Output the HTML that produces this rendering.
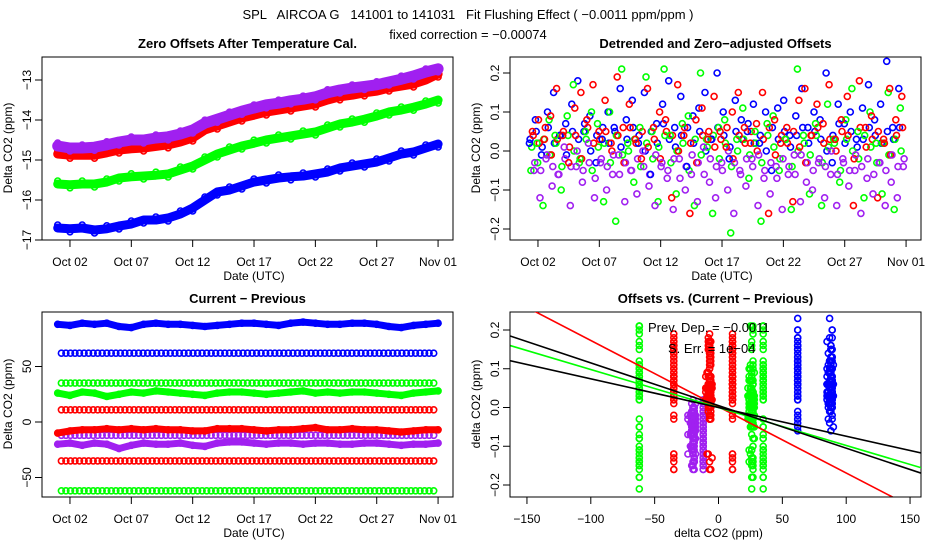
<!DOCTYPE html>
<html><head><meta charset="utf-8">
<style>
html,body{margin:0;padding:0;background:#fff;}
svg{display:block;font-family:"Liberation Sans",sans-serif;}
</style></head>
<body>
<svg id="chart" width="936" height="540" viewBox="0 0 936 540" xmlns="http://www.w3.org/2000/svg">
<defs>
<clipPath id="c1"><rect x="42" y="57" width="411" height="183"/></clipPath>
<clipPath id="c2"><rect x="510" y="57" width="411" height="183"/></clipPath>
<clipPath id="c3"><rect x="42" y="312" width="411" height="185"/></clipPath>
<clipPath id="c4"><rect x="510" y="312" width="411" height="185"/></clipPath>
</defs>
<text x="468" y="19" text-anchor="middle" font-size="13" style="white-space:pre">SPL   AIRCOA G   141001 to 141031   Fit Flushing Effect ( −0.0011 ppm/ppm )</text>
<text x="468" y="39" text-anchor="middle" font-size="13">fixed correction = −0.00074</text>
</svg>
<script>
// ---------- data ----------
const dayTicks=[1,6,11,16,21,26,31];
const dayTickLabels=["Oct 02","Oct 07","Oct 12","Oct 17","Oct 22","Oct 27","Nov 01"];
const p1Days=[0,1,2,3,4,5,6,7,8,9,10,11,12,13,14,15,16,17,18,19,20,21,22,23,24,25,26,27,28,29,30,31];
const p1Blue=[-16.7,-16.72,-16.7,-16.75,-16.72,-16.65,-16.6,-16.5,-16.5,-16.45,-16.35,-16.2,-16.0,-15.8,-15.75,-15.65,-15.55,-15.5,-15.45,-15.42,-15.4,-15.35,-15.3,-15.2,-15.15,-15.1,-15.05,-14.95,-14.85,-14.8,-14.7,-14.6];
const p1Green=[-15.6,-15.62,-15.6,-15.6,-15.55,-15.45,-15.42,-15.4,-15.38,-15.35,-15.25,-15.15,-15.0,-14.85,-14.75,-14.65,-14.58,-14.5,-14.45,-14.4,-14.35,-14.3,-14.2,-14.1,-14.05,-13.98,-13.9,-13.8,-13.75,-13.68,-13.6,-13.5];
const p1Red=[-14.85,-14.88,-14.88,-14.88,-14.82,-14.75,-14.72,-14.7,-14.66,-14.62,-14.55,-14.45,-14.25,-14.15,-14.05,-13.95,-13.88,-13.8,-13.75,-13.7,-13.65,-13.6,-13.5,-13.42,-13.38,-13.32,-13.28,-13.2,-13.15,-13.1,-13.0,-12.85];
const p1Purple=[-14.65,-14.7,-14.7,-14.68,-14.62,-14.55,-14.5,-14.5,-14.45,-14.42,-14.35,-14.25,-14.08,-13.98,-13.88,-13.78,-13.7,-13.62,-13.58,-13.52,-13.48,-13.42,-13.32,-13.25,-13.2,-13.16,-13.12,-13.05,-12.98,-12.9,-12.8,-12.72];
const p1YTicks=[-17,-16,-15,-14,-13];

const p2Blue=[0.02,0.08,-0.01,0.10,0.15,0.04,0.07,0.12,0.18,0.05,0.09,-0.03,0.03,0.10,0.06,0.16,0.08,0.13,0.02,0.15,-0.06,0.07,0.12,0.18,0.06,0.14,-0.04,0.09,0.11,0.15,0.03,0.20,0.10,-0.02,0.13,0.08,0.05,0.12,0.02,0.10,-0.05,0.11,0.13,0.04,0.09,0.16,0.06,0.10,0.08,0.20,-0.03,0.12,0.07,0.10,0.03,0.11,0.17,0.08,0.12,0.23,0.06,0.16];
const p2Red=[0.05,0.08,0.03,0.09,0.16,0.04,-0.03,0.11,0.15,0.08,0.17,0.05,0.13,0.02,0.19,0.06,0.12,0.03,-0.02,0.16,0.06,0.10,0.08,-0.12,0.17,0.04,-0.16,0.08,0.11,0.03,0.14,0.05,0.01,0.10,0.15,0.06,0.02,0.07,0.15,-0.16,0.08,0.02,0.06,-0.13,0.13,0.16,0.04,0.12,0.07,0.17,0.03,0.08,0.14,-0.14,0.18,0.06,0.09,-0.12,0.03,0.16,0.08,0.14];
const p2Green=[-0.05,0.02,-0.14,0.08,0.04,-0.10,0.09,0.17,-0.03,0.05,0.10,0.07,-0.13,0.10,-0.18,0.21,0.02,-0.08,0.06,0.19,0.05,-0.13,0.21,0.04,-0.11,0.07,0.09,-0.14,0.20,0.03,-0.16,0.06,0.08,-0.21,0.03,0.11,-0.07,0.05,-0.18,0.07,0.09,-0.05,0.03,-0.15,0.21,0.04,-0.11,0.07,-0.14,0.12,0.03,-0.08,0.08,0.16,0.05,-0.12,0.10,0.02,-0.11,0.15,-0.15,0.11];
const p2Purple=[-0.05,-0.12,-0.02,-0.09,-0.06,0.01,-0.14,-0.04,-0.08,0.02,-0.12,-0.03,-0.10,-0.06,-0.01,-0.13,-0.05,-0.11,0.00,-0.09,-0.14,-0.04,-0.07,-0.15,-0.02,-0.10,-0.06,-0.13,0.01,-0.08,-0.12,-0.03,-0.10,-0.16,-0.05,-0.09,-0.02,-0.14,-0.07,-0.11,-0.04,-0.15,-0.06,-0.01,-0.13,-0.08,-0.10,-0.03,-0.12,-0.06,-0.14,-0.02,-0.09,-0.05,-0.16,-0.07,-0.11,-0.03,-0.14,-0.08,-0.12,-0.04];
const p2BlueCore=[0.03,0.05,0.01,0.06,0.02,0.04,-0.01,0.05,0.03,0.07,0.00,0.04,0.06,0.02,0.05,0.01,0.03,0.06,0.04,0.00,0.05,0.02,0.07,0.03,0.01,0.04,0.06,0.02,0.05,0.00,0.03,0.06,0.04,0.01,0.05,0.03,0.07,0.02,0.04,0.00,0.06,0.03,0.05,0.01,0.04,0.06,0.02,0.05,0.03,0.00,0.04,0.07,0.02,0.05,0.01,0.03,0.06,0.04,0.02,0.05,0.03,0.06];
const p2RedCore=[0.04,0.02,0.06,-0.01,0.03,0.05,0.01,0.04,-0.02,0.06,0.02,0.03,0.05,0.00,0.04,-0.03,0.06,0.02,0.05,0.01,0.03,-0.02,0.05,0.04,0.00,0.06,0.02,-0.03,0.04,0.05,0.01,0.03,0.06,-0.02,0.04,0.02,0.05,0.00,0.03,0.06,-0.01,0.04,0.02,0.05,0.01,-0.03,0.04,0.06,0.02,0.03,0.00,0.05,0.04,-0.02,0.06,0.01,0.03,0.05,0.02,-0.01,0.04,0.06];
const p2GreenCore=[0.01,-0.03,0.03,-0.01,0.02,-0.04,0.04,0.00,-0.02,0.03,-0.05,0.01,0.02,-0.03,0.04,-0.01,0.00,0.03,-0.04,0.02,-0.02,0.01,0.04,-0.03,0.00,0.02,-0.05,0.03,-0.01,0.01,0.04,-0.02,0.02,-0.04,0.00,0.03,-0.01,0.02,-0.03,0.04,0.01,-0.02,0.03,-0.04,0.00,0.02,-0.01,0.04,-0.03,0.01,0.02,-0.05,0.03,0.00,-0.02,0.04,0.01,-0.03,0.02,-0.01,0.03,0.00];
const p2PurpleCore=[-0.03,-0.05,-0.01,-0.04,-0.06,-0.02,-0.04,0.00,-0.05,-0.03,-0.07,-0.02,-0.04,-0.01,-0.06,-0.03,-0.05,-0.02,-0.04,-0.06,-0.01,-0.03,-0.05,-0.02,-0.07,-0.04,-0.01,-0.03,-0.06,-0.02,-0.04,-0.05,0.00,-0.03,-0.06,-0.02,-0.04,-0.01,-0.05,-0.03,-0.07,-0.02,-0.04,-0.06,-0.01,-0.03,-0.05,-0.02,-0.04,0.00,-0.06,-0.03,-0.05,-0.01,-0.04,-0.02,-0.06,-0.03,-0.05,-0.01,-0.04,-0.02];
const p2YTicks=[-0.2,-0.1,0.0,0.1,0.2];
const p2YLabels=["−0.2","−0.1","0.0","0.1","0.2"];

const p3Blue=[88,87,89,88,89,86,85,88,89,88,88,87,86,87,88,89,89,88,87,89,90,89,88,88,89,89,88,86,85,87,88,89];
const p3Green=[26,24,27,26,23,25,27,26,28,27,26,25,24,26,27,27,26,25,26,27,28,26,27,26,27,27,26,25,24,26,27,28];
const p3Red=[-10,-8,-7,-7,-6,-7,-6,-7,-6,-7,-7,-8,-8,-6,-6,-6,-7,-8,-7,-7,-6,-5,-7,-7,-6,-7,-7,-8,-9,-8,-7,-7];
const p3Purple=[-20,-19,-21,-19,-20,-24,-21,-19,-20,-20,-19,-21,-22,-19,-18,-18,-19,-20,-19,-19,-20,-19,-19,-20,-20,-19,-19,-20,-21,-20,-20,-19];
const p3ConstValues=[62,35,11,-12,-35,-62];
const p3ConstColors=["#0000ff","#00ff00","#ff0000","#a020f0","#ff0000","#00ff00"];
const p3YTicks=[-50,0,50];
const p3YLabels=["−50","0","50"];

const p4XTicks=[-150,-100,-50,0,50,100,150];
const p4XLabels=["−150","−100","−50","0","50","100","150"];
const p4Slopes=[-0.00171,-0.00098,-0.0011,-0.00074];
const p4Intercepts=[0.002,0.0,0.005,0.0];
const p4LineColors=["#ff0000","#00ff00","#000000","#000000"];

// ---------- helpers ----------
const svg=document.getElementById('chart');
const NS='http://www.w3.org/2000/svg';
function mk(tag,attrs,parent){const e=document.createElementNS(NS,tag);for(const k in attrs)e.setAttribute(k,attrs[k]);(parent||svg).appendChild(e);return e;}
const dx1=d=>57.7+12.27*d, dx2=d=>525.7+12.27*d;
const y1=v=>80-(v+13)*40, y2=v=>151-v*390, y3=v=>422-v*1.11;
const x4=v=>718.5+1.277*v, y4=v=>407.5-v*387.5;
const BLUE="#0000ff",RED="#ff0000",GREEN="#00ff00",PURPLE="#a020f0";

function circle(g,x,y,c){
  const e=mk('circle',{cx:x.toFixed(1),cy:y.toFixed(1),r:3,fill:'none',stroke:c,'stroke-width':1.6},g);
  
  
}
function band(g,xs,ys,c,w){
  const e=mk('polyline',{points:xs.map((x,i)=>x.toFixed(1)+','+ys[i].toFixed(1)).join(' '),fill:'none',stroke:c,'stroke-width':w,'stroke-linejoin':'round','stroke-linecap':'round'},g);
  
  
}
function frame(x0,y0,x1,y1b,title,name){
  const b=mk('rect',{x:x0,y:y0,width:x1-x0,height:y1b-y0,fill:'none',stroke:'#000','stroke-width':1});
  
  
  const t=mk('text',{x:(x0+x1)/2,y:y0-9,'text-anchor':'middle','font-size':13,'font-weight':'bold'});
  t.textContent=title;
  
  
}
function xaxis(vals,labels,fx,yb,xlab,name){
  const g=mk('g',{});
  
  
  mk('line',{x1:fx(vals[0]),x2:fx(vals[vals.length-1]),y1:yb,y2:yb,stroke:'#000'},g);
  vals.forEach((v,i)=>{
    mk('line',{x1:fx(v),x2:fx(v),y1:yb,y2:yb+7,stroke:'#000'},g);
    const t=mk('text',{x:fx(v),y:yb+26,'text-anchor':'middle','font-size':12},g);
    t.textContent=labels[i];
  });
  const t=mk('text',{x:(fx(vals[0])+fx(vals[vals.length-1]))/2,y:yb+40,'text-anchor':'middle','font-size':12},g);
  t.textContent=xlab;
  
  
}
function yaxis(vals,labels,fy,xl,yc,ylab,name){
  const g=mk('g',{});
  
  
  mk('line',{x1:xl,x2:xl,y1:fy(vals[0]),y2:fy(vals[vals.length-1]),stroke:'#000'},g);
  vals.forEach((v,i)=>{
    mk('line',{x1:xl-7,x2:xl,y1:fy(v),y2:fy(v),stroke:'#000'},g);
    const t=mk('text',{x:0,y:0,'text-anchor':'middle','font-size':12,transform:`translate(${xl-11},${fy(v)}) rotate(-90)`},g);
    t.textContent=labels[i];
  });
  const t=mk('text',{x:0,y:0,'text-anchor':'middle','font-size':12,transform:`translate(${xl-30},${yc}) rotate(-90)`},g);
  t.textContent=ylab;
  
  
}

// ---------- panel 1 ----------
frame(42,57,453,240,"Zero Offsets After Temperature Cal.","zero-offsets");
{
  const g=mk('g',{'clip-path':'url(#c1)'});
  
  
  const xs=p1Days.map(dx1);
  [[p1Blue,BLUE,9],[p1Green,GREEN,9],[p1Red,RED,9],[p1Purple,PURPLE,11]].forEach(([arr,c,w])=>{
    band(g,xs,arr.map(y1),c,w);
    arr.forEach((v,i)=>circle(g,xs[i],y1(v)+((i%2)?3:-3),c));
  });
}
xaxis(dayTicks,dayTickLabels,dx1,240,"Date (UTC)","zero-offsets");
yaxis(p1YTicks,p1YTicks.map(v=>String(v).replace('-','−')),y1,42,148,"Delta CO2 (ppm)","zero-offsets");

// ---------- panel 2 ----------
frame(510,57,921,240,"Detrended and Zero−adjusted Offsets","detrended");
{
  const g=mk('g',{'clip-path':'url(#c2)'});
  
  
  const n=p2Blue.length;
  const dayAt=(i,off)=>0.3+(i+off)*30.6/n;
  [[p2BlueCore,BLUE,0.125],[p2GreenCore,GREEN,0.375],[p2RedCore,RED,0.625],[p2PurpleCore,PURPLE,0.875],
   [p2Blue,BLUE,0],[p2Green,GREEN,0.25],[p2Red,RED,0.5],[p2Purple,PURPLE,0.75]].forEach(([arr,c,off])=>{
    arr.forEach((v,i)=>circle(g,dx2(dayAt(i,off)),y2(v),c));
  });
}
xaxis(dayTicks,dayTickLabels,dx2,240,"Date (UTC)","detrended");
yaxis(p2YTicks,p2YLabels,y2,510,148,"Delta CO2 (ppm)","detrended");

// ---------- panel 3 ----------
frame(42,312,453,497,"Current − Previous","current-minus-previous");
{
  const g=mk('g',{'clip-path':'url(#c3)'});
  
  
  p3ConstValues.forEach((v,k)=>{
    for(let d=0.3;d<=31;d+=0.37) circle(g,dx1(d),y3(v),p3ConstColors[k]);
  });
  const xs=p1Days.map(dx1);
  [[p3Blue,BLUE],[p3Green,GREEN],[p3Red,RED],[p3Purple,PURPLE]].forEach(([arr,c])=>{
    band(g,xs,arr.map(y3),c,7);
    arr.forEach((v,i)=>circle(g,xs[i],y3(v),c));
  });
}
xaxis(dayTicks,dayTickLabels,dx1,497,"Date (UTC)","current-minus-previous");
yaxis(p3YTicks,p3YLabels,y3,42,404,"Delta CO2 (ppm)","current-minus-previous");

// ---------- panel 4 ----------
frame(510,312,921,497,"Offsets vs. (Current − Previous)","offsets-vs-difference");
{
  const g=mk('g',{'clip-path':'url(#c4)'});
  
  
  const cols=[[62,p2Blue,BLUE],[35,p2Green,GREEN],[11,p2Red,RED],[-12,p2Purple,PURPLE],[-35,p2Red,RED],[-62,p2Green,GREEN]];
  cols.forEach(([xv,arr,c])=>arr.forEach(v=>circle(g,x4(xv),y4(v),c)));
  const blobs=[[p3Blue,p2Blue,BLUE],[p3Blue,p2BlueCore,BLUE],[p3Green,p2Green,GREEN],[p3Green,p2GreenCore,GREEN],
               [p3Red,p2Red,RED],[p3Red,p2RedCore,RED],[p3Purple,p2Purple,PURPLE],[p3Purple,p2PurpleCore,PURPLE]];
  blobs.forEach(([xa,ya,c])=>ya.forEach((v,i)=>circle(g,x4(xa[Math.floor(i/2)]),y4(v),c)));
  p4Slopes.forEach((s,i)=>{
    const l=mk('line',{x1:x4(-170),y1:y4(p4Intercepts[i]+s*-170),x2:x4(170),y2:y4(p4Intercepts[i]+s*170),stroke:p4LineColors[i],'stroke-width':1.6},g);
    
    
  });
}
{
  const t1=mk('text',{x:648,y:332,'text-anchor':'start','font-size':13});
  t1.textContent="Prev. Dep. =  −0.0011";
  
  
  const t2=mk('text',{x:668,y:353,'text-anchor':'start','font-size':13});
  t2.textContent="S. Err. =  1e−04";
  
  
}
xaxis(p4XTicks,p4XLabels,x4,497,"delta CO2 (ppm)","offsets-vs-difference");
yaxis(p2YTicks,p2YLabels,y4,510,404,"delta CO2 (ppm)","offsets-vs-difference");
</script>
</body></html>
